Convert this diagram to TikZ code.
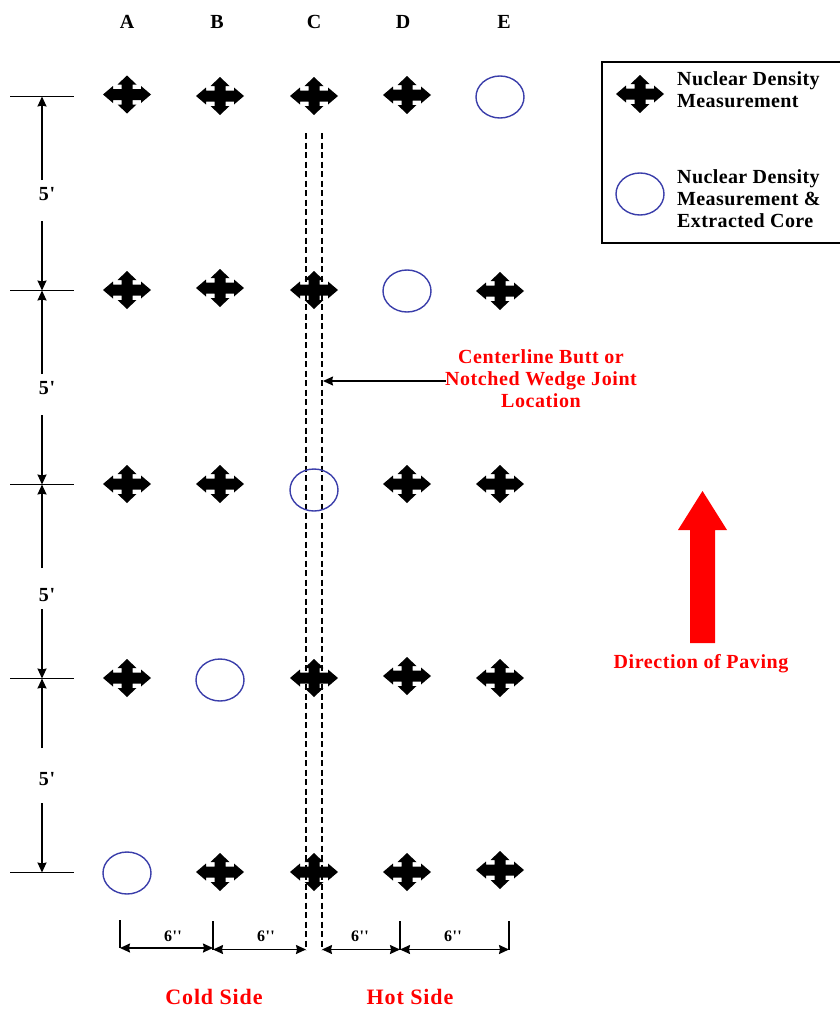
\documentclass[tikz,border=0pt]{standalone}
\usepackage{fontspec}
\setmainfont{Liberation Serif}[Ligatures=TeXOff]
\usetikzlibrary{arrows.meta,shapes.geometric}
\definecolor{ringblue}{RGB}{58,62,170}
\newcommand{\spaced}[2]{\fontsize{#1}{22}\selectfont\bfseries\addfontfeature{LetterSpace=#2}}
\tikzset{
  x=1pt,y=-1pt,
  crossmark/.style={minimum width=49pt,minimum height=39pt,inner sep=0pt,outer sep=0pt,
    path picture={\fill[black,shift={(path picture bounding box.center)}]
      (-24,0)--(-14,-8.5)--(-14,-5.5)--(-5.5,-5.5)--(-5.5,-10)--(-9.5,-10)--(0,-19)--(9.5,-10)--(5.5,-10)--(5.5,-5.5)--(14,-5.5)--(14,-8.5)--(24,0)
      --(14,8.5)--(14,5.5)--(5.5,5.5)--(5.5,10)--(9.5,10)--(0,19)--(-9.5,10)--(-5.5,10)--(-5.5,5.5)--(-14,5.5)--(-14,8.5)--cycle;}},
  ring/.style={ellipse,draw=ringblue,line width=1.4pt,minimum width=48pt,minimum height=42pt,inner sep=0pt},
  rule/.style={black,line width=1.4pt},
  dim/.style={black,line width=1.5pt,-{Stealth[length=10pt,width=9pt,inset=1pt]}},
  dimboth/.style={black,line width=1.5pt,{Stealth[length=10pt,width=9pt,inset=1pt]}-{Stealth[length=10pt,width=9pt,inset=1pt]}},
  jointline/.style={black,line width=1.2pt,dash pattern=on 6pt off 3.5pt},
  collabel/.style={font=\spaced{20}{3},inner sep=0pt},
  dimlabel/.style={font=\spaced{20}{3},inner sep=0pt},
  smalllabel/.style={font=\spaced{16}{3},inner sep=0pt},
  legendtext/.style={font=\spaced{20}{2},inner sep=0pt,anchor=north west,align=left},
  redtext/.style={text=red,font=\spaced{20}{3},inner sep=0pt,align=center},
  sidetext/.style={text=red,font=\spaced{22}{4},inner sep=0pt},
}
\begin{document}
\begin{tikzpicture}
\useasboundingbox (0,0) rectangle (840,1009);
% joint lines
\coordinate (j1t) at (306,133); \coordinate (j1b) at (306,950);
\coordinate (j2t) at (322,133); \coordinate (j2b) at (322,950);
\draw[jointline] (j1t) -- (j1b);
\draw[jointline] (j2t) -- (j2b);
% column letters
\node[collabel] (la) at (127,22) {A};
\node[collabel] (lb) at (217,22) {B};
\node[collabel] (lc) at (314,22) {C};
\node[collabel] (ld) at (403,22) {D};
\node[collabel] (le) at (504,22) {E};
% row 1
\node[crossmark] (a1) at (127,94.5) {};
\node[crossmark] (b1) at (220,96) {};
\node[crossmark] (c1) at (314,96) {};
\node[crossmark] (d1) at (407,95) {};
\node[ring] (e1) at (500,97) {};
% row 2
\node[crossmark] (a2) at (127,290) {};
\node[crossmark] (b2) at (220,288) {};
\node[crossmark] (c2) at (314,290) {};
\node[ring] (d2) at (407,291) {};
\node[crossmark] (e2) at (500,291) {};
% row 3
\node[crossmark] (a3) at (127,484) {};
\node[crossmark] (b3) at (220,484) {};
\node[ring] (c3) at (314,490) {};
\node[crossmark] (d3) at (407,484) {};
\node[crossmark] (e3) at (500,484) {};
% row 4
\node[crossmark] (a4) at (127,678) {};
\node[ring] (b4) at (220,680) {};
\node[crossmark] (c4) at (314,678) {};
\node[crossmark] (d4) at (407,676) {};
\node[crossmark] (e4) at (500,678) {};
% row 5
\node[ring] (a5) at (127,873) {};
\node[crossmark] (b5) at (220,872) {};
\node[crossmark] (c5) at (314,872) {};
\node[crossmark] (d5) at (407,872) {};
\node[crossmark] (e5) at (500,870) {};
% left dimensions
\coordinate (t1l) at (10,96.5); \coordinate (t1r) at (74,96.5); \coordinate (t1) at (42,96.5);
\coordinate (t2l) at (10,290.5); \coordinate (t2r) at (74,290.5); \coordinate (t2) at (42,290.5);
\coordinate (t3l) at (10,484.5); \coordinate (t3r) at (74,484.5); \coordinate (t3) at (42,484.5);
\coordinate (t4l) at (10,678.5); \coordinate (t4r) at (74,678.5); \coordinate (t4) at (42,678.5);
\coordinate (t5l) at (10,872.5); \coordinate (t5r) at (74,872.5); \coordinate (t5) at (42,872.5);
\draw[rule] (t1l) -- (t1r);
\draw[rule] (t2l) -- (t2r);
\draw[rule] (t3l) -- (t3r);
\draw[rule] (t4l) -- (t4r);
\draw[rule] (t5l) -- (t5r);
\coordinate (s1a) at (42,180); \coordinate (s1b) at (42,221);
\coordinate (s2a) at (42,374); \coordinate (s2b) at (42,415);
\coordinate (s3a) at (42,568); \coordinate (s3b) at (42,609);
\coordinate (s4a) at (42,748); \coordinate (s4b) at (42,803);
\draw[dim] (s1a) -- (t1); \draw[dim] (s1b) -- (t2);
\draw[dim] (s2a) -- (t2); \draw[dim] (s2b) -- (t3);
\draw[dim] (s3a) -- (t3); \draw[dim] (s3b) -- (t4);
\draw[dim] (s4a) -- (t4); \draw[dim] (s4b) -- (t5);
\node[dimlabel] (f1) at (47,194) {5'};
\node[dimlabel] (f2) at (47,388) {5'};
\node[dimlabel] (f3) at (47,595) {5'};
\node[dimlabel] (f4) at (47,779) {5'};
% bottom dimensions
\coordinate (w1t) at (120,920); \coordinate (w1b) at (120,948);
\coordinate (w2t) at (213,921); \coordinate (w2b) at (213,950);
\coordinate (w3b) at (306,949.5); \coordinate (w4b) at (322,949.5);
\coordinate (w5t) at (400,921); \coordinate (w5b) at (400,950);
\coordinate (w6t) at (509,921); \coordinate (w6b) at (509,950);
\draw[rule] (w1t) -- (w1b);
\draw[rule] (w2t) -- (w2b);
\draw[rule] (w5t) -- (w5b);
\draw[rule] (w6t) -- (w6b);
\draw[dimboth] (w1b) -- (w2b |- w1b);
\draw[dimboth] (213,949.5) -- (w3b);
\draw[dimboth] (w4b) -- (400,949.5);
\draw[dimboth] (400,949.5) -- (509,949.5);
\node[smalllabel] (i1) at (173,936) {6''};
\node[smalllabel] (i2) at (266,936) {6''};
\node[smalllabel] (i3) at (360,936) {6''};
\node[smalllabel] (i4) at (453,936) {6''};
\node[sidetext] (cold) at (214,997) {Cold Side};
\node[sidetext] (hot) at (410,997) {Hot Side};
% joint callout
\node[redtext] (joint) at (541,378.5) {Centerline Butt or\\[0pt]Notched Wedge Joint\\[0pt]Location};
\coordinate (jointstart) at (446,381);
\coordinate (jointend) at (323,381);
\draw[dim] (jointstart) -- (jointend);
% paving arrow
\fill[red] (702.5,491) -- (727,530) -- (715,530) -- (715,643) -- (690,643) -- (690,530) -- (678,530) -- cycle;
\node[redtext] (paving) at (701,664) {Direction of Paving};
% legend
\draw[black,line width=1.4pt] (602,62) rectangle (842,243);
\node[crossmark] (lg1) at (640,94) {};
\node[ring] (lg2) at (640,194) {};
\node[legendtext] (lt1) at (677,71) {Nuclear Density\\Measurement};
\node[legendtext] (lt2) at (677,169) {Nuclear Density\\Measurement \&\\Extracted Core};
\end{tikzpicture}
\end{document}
